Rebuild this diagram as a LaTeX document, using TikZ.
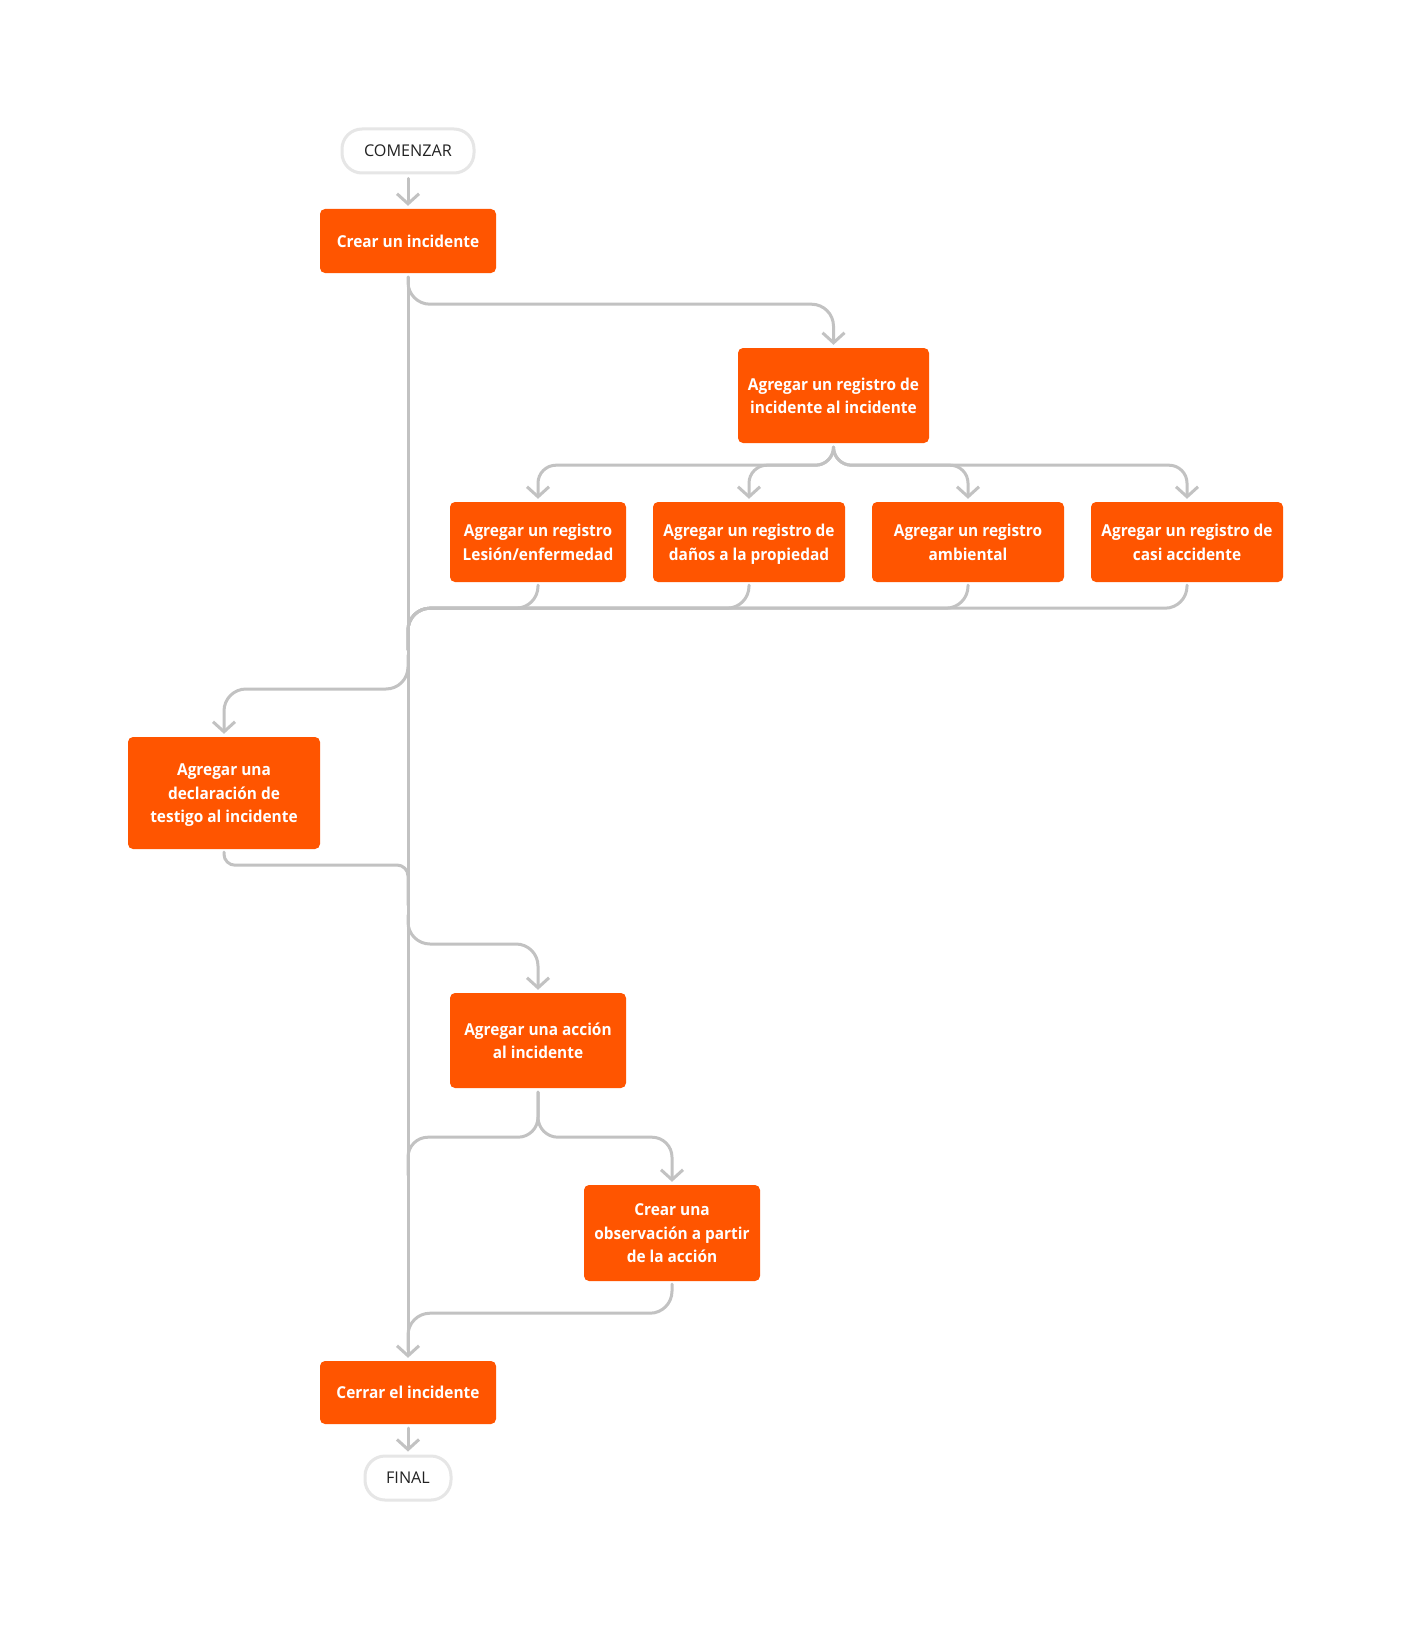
\documentclass[tikz,border=0pt]{standalone}
\usepackage{fontspec}
\setmainfont{Open Sans}
\newfontfamily\boxfont{Open Sans Bold}[FakeStretch=0.94]
\usetikzlibrary{arrows.meta,calc}
\newcommand\boxstrut{\rule[-5.3pt]{0pt}{23.5pt}}
\definecolor{boxorange}{HTML}{FF5500}
\definecolor{linegray}{HTML}{C2C2C2}
\definecolor{pillgray}{HTML}{E6E6E6}
\definecolor{darktext}{HTML}{222222}
\tikzset{
  stepbox/.style={fill=boxorange, rounded corners=5pt, text=white, align=center, inner sep=0pt,
    font=\boxfont\fontsize{16.4}{23.5}\selectfont,
    execute at end node=\boxstrut},
  pill/.style={draw=pillgray, line width=3pt, fill=white, rounded corners=20pt, inner sep=0pt,
    minimum height=44pt, text=darktext, font=\fontsize{16.2}{20}\selectfont},
  conn/.style={draw=linegray, line width=3pt, line cap=round, rounded corners=22pt},
  arr/.style={conn, -{Straight Barb[length=10pt,width=22pt]}, shorten >=3pt}
}
\begin{document}
\begin{tikzpicture}[x=1pt,y=-1pt]
\useasboundingbox[fill=white] (0,0) rectangle (1411,1629);
% nodes
\node[pill, minimum width=132pt] (start) at (408,151) {COMENZAR};
\node[stepbox, minimum width=176pt, minimum height=64pt] (crear) at (408,241) {\boxstrut Crear un incidente};
\node[stepbox, minimum width=191pt, minimum height=95pt] (reg) at (833.5,395.5) {\boxstrut Agregar un registro de\\incidente al incidente};
\node[stepbox, minimum width=176pt, minimum height=80pt] (les) at (538,542) {\boxstrut Agregar un registro\\Lesión/enfermedad};
\node[stepbox, minimum width=192pt, minimum height=80pt] (dan) at (749,542) {\boxstrut Agregar un registro de\\daños a la propiedad};
\node[stepbox, minimum width=192pt, minimum height=80pt] (amb) at (968,542) {\boxstrut Agregar un registro\\ambiental};
\node[stepbox, minimum width=192pt, minimum height=80pt] (casi) at (1187,542) {\boxstrut Agregar un registro de\\casi accidente};
\node[stepbox, minimum width=192pt, minimum height=112pt] (decl) at (224,793) {\boxstrut Agregar una\\declaración de\\testigo al incidente};
\node[stepbox, minimum width=176pt, minimum height=95pt] (acc) at (538,1040.5) {\boxstrut Agregar una acción\\al incidente};
\node[stepbox, minimum width=176pt, minimum height=96pt] (obs) at (672,1233) {\boxstrut Crear una\\observación a partir\\de la acción};
\node[stepbox, minimum width=176pt, minimum height=63pt] (cerrar) at (408,1392.5) {\boxstrut Cerrar el incidente};
\node[pill, minimum width=86pt] (fin) at (408,1478) {FINAL};
% junction points on the main line
\coordinate (j0) at (408,650);
\coordinate (j1) at (408,655);
\coordinate (j2) at (408,905);
\coordinate (j3) at (408,915);
\coordinate (j4) at (408,1175);
\coordinate (j5) at (408,1350);
% connectors
\draw[arr] ($(start.south)+(0,4)$) -- (crear.north);
\draw[arr] ($(crear.south)+(0,4)$) -- (cerrar.north);
\draw[arr] ($(crear.south)+(0,4)$) -- ++(0,27) -| (reg.north);
\foreach \t in {les,dan,amb,casi}{
  \draw[arr, rounded corners=18pt] ($(reg.south)+(0,4)$) -- ++(0,18) -| (\t.north);
  \draw[conn] ($(\t.south)+(0,3)$) -- ++(0,23) -| (j0);
}
\draw[arr] (j1) -- ++(0,34) -| (decl.north);
\draw[conn] ($(decl.south)+(0,3)$) [rounded corners=11pt] -- ($(decl.south)+(0,16)$) -- ($(j2)+(0,-40)$) [rounded corners=22pt] -- (j2);
\draw[arr] (j3) -- ++(0,29) -| (acc.north);
\draw[conn, rounded corners=20pt] ($(acc.south)+(0,4)$) -- ++(0,45) -| (j4);
\draw[arr, rounded corners=20pt] ($(acc.south)+(0,4)$) -- ++(0,45) -| (obs.north);
\draw[conn] ($(obs.south)+(0,3)$) -- ++(0,29) -| (j5);
\draw[arr] ($(cerrar.south)+(0,4)$) -- (fin.north);
\end{tikzpicture}
\end{document}
